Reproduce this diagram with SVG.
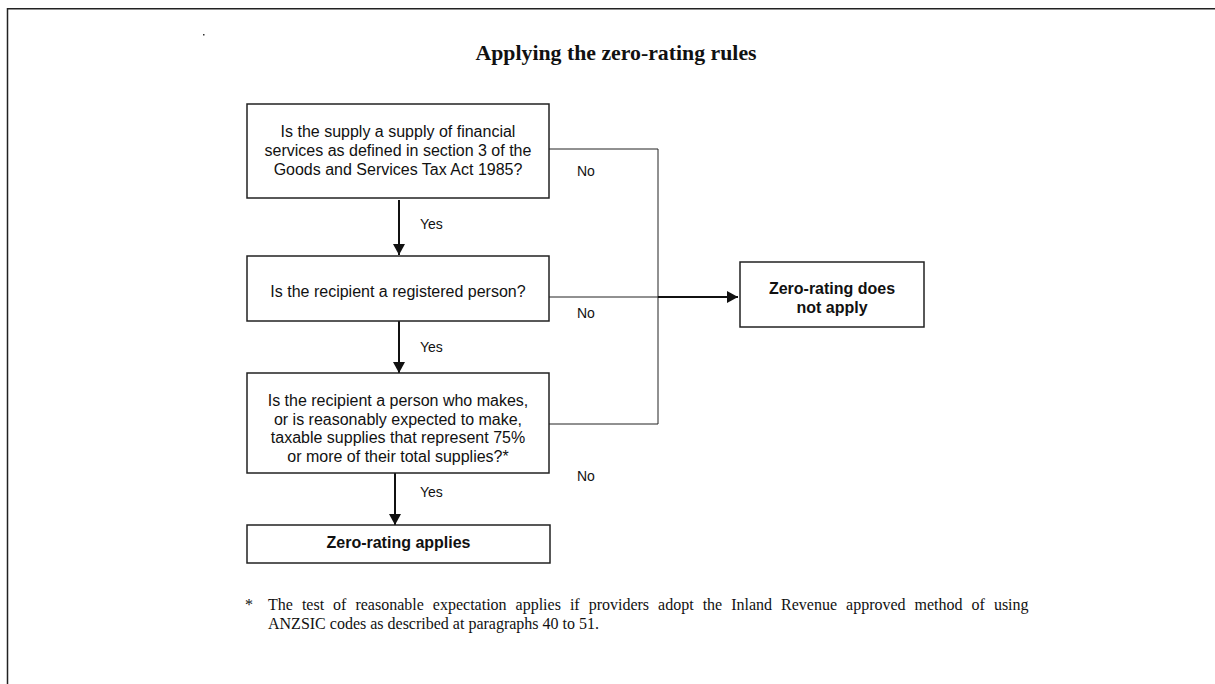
<svg xmlns="http://www.w3.org/2000/svg" width="1215" height="684" viewBox="0 0 1215 684">
<style>
.box{fill:#fff;stroke:#222;stroke-width:1.5}
.t{font-family:"Liberation Sans",Arial,sans-serif;font-size:16px;fill:#111;text-anchor:middle}
.b{font-weight:bold}
.lbl{font-family:"Liberation Sans",Arial,sans-serif;font-size:14px;fill:#111}
.thin{stroke:#222;stroke-width:1;fill:none}
.thick{stroke:#111;stroke-width:2;fill:none}
.serif{font-family:"Liberation Serif","Times New Roman",serif;fill:#111}
</style>
<defs>
<marker id="ah" markerUnits="userSpaceOnUse" markerWidth="11" markerHeight="12" refX="11" refY="6" orient="auto">
<path d="M0,0 L11,6 L0,12 z" fill="#111"/>
</marker>
</defs>
<rect width="1215" height="684" fill="#fff"/>
<g id="frame">
<path d="M7.5,684 V8.75 H1215" fill="none" stroke="#222" stroke-width="1.5"/>
<rect x="203" y="34" width="1.5" height="1.5" fill="#333"/>
</g>
<text id="title" class="serif" x="616" y="60" font-size="21.8" font-weight="bold" text-anchor="middle">Applying the zero-rating rules</text>
<g id="connectors">
<path class="thin" d="M549,149 H658 V424 H549"/>
<path class="thin" d="M549,297 H658"/>
<path class="thick" d="M658,297 H738" marker-end="url(#ah)"/>
<path class="thick" d="M399,200 V255" marker-end="url(#ah)"/>
<path class="thick" d="M399,321 V373" marker-end="url(#ah)"/>
<path class="thick" d="M395,473 V525" marker-end="url(#ah)"/>
<text class="lbl" x="577" y="176">No</text>
<text class="lbl" x="420" y="229">Yes</text>
<text class="lbl" x="577" y="318">No</text>
<text class="lbl" x="420" y="352">Yes</text>
<text class="lbl" x="577" y="481">No</text>
<text class="lbl" x="420" y="497">Yes</text>
</g>
<g id="q1">
<rect class="box" x="247" y="104" width="302" height="94"/>
<text class="t" x="398" y="137">Is the supply a supply of financial</text>
<text class="t" x="398" y="156">services as defined in section 3 of the</text>
<text class="t" x="398" y="175">Goods and Services Tax Act 1985?</text>
</g>
<g id="q2">
<rect class="box" x="247" y="256" width="302" height="65"/>
<text class="t" x="398" y="297">Is the recipient a registered person?</text>
</g>
<g id="q3">
<rect class="box" x="247" y="373" width="302" height="100"/>
<text class="t" x="398" y="406">Is the recipient a person who makes,</text>
<text class="t" x="398" y="424.5">or is reasonably expected to make,</text>
<text class="t" x="398" y="443">taxable supplies that represent 75%</text>
<text class="t" x="398" y="461.5">or more of their total supplies?*</text>
</g>
<g id="applies">
<rect class="box" x="247" y="525" width="303" height="38"/>
<text class="t b" x="398.5" y="548">Zero-rating applies</text>
</g>
<g id="notapply">
<rect class="box" x="740" y="262" width="184" height="65"/>
<text class="t b" x="832" y="294">Zero-rating does</text>
<text class="t b" x="832" y="313">not apply</text>
</g>
<g id="footnote" class="serif" font-size="16">
<text x="245" y="610">*</text>
<text x="268" y="610" word-spacing="5">The test of reasonable expectation applies if providers adopt the Inland Revenue approved method of using</text>
<text x="268" y="629">ANZSIC codes as described at paragraphs 40 to 51.</text>
</g>
</svg>
